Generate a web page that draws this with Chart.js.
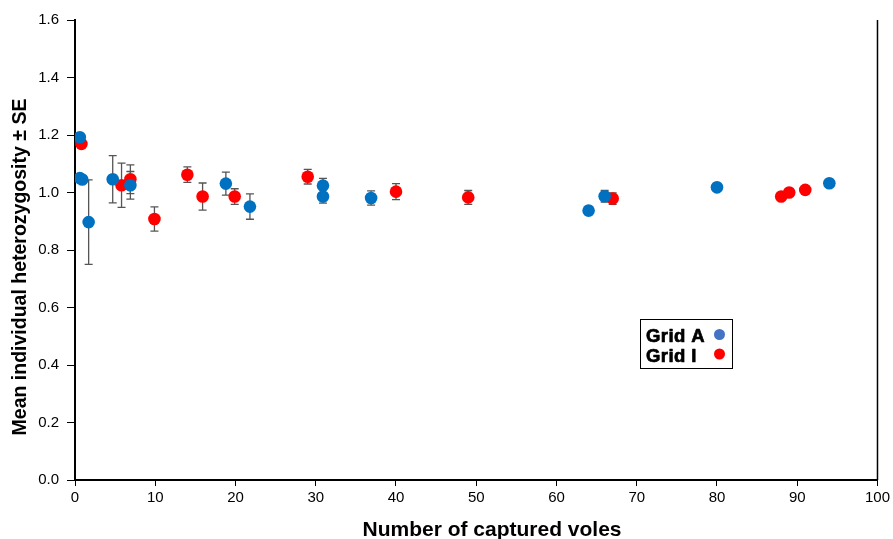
<!DOCTYPE html>
<html>
<head>
<meta charset="utf-8">
<script src="https://cdn.jsdelivr.net/npm/chart.js@4.4.0/dist/chart.umd.min.js"></script>
<style>
  html, body { margin: 0; padding: 0; background: #fff; }
  #wrap { width: 893px; height: 539px; }
</style>
</head>
<body>
<div id="wrap"><canvas id="myChart" width="893" height="539"></canvas></div>
<script>
"use strict";

// Grid A (blue)
var gridA_x  = [0.6, 0.6, 0.9, 1.7, 4.7, 6.9, 18.8, 21.8, 30.9, 30.9, 36.9, 64, 66, 80, 94];
var gridA_y  = [1.192, 1.050, 1.045, 0.897, 1.046, 1.025, 1.031, 0.951, 1.024, 0.986, 0.981, 0.937, 0.987, 1.018, 1.032];
var gridA_se = [0, 0, 0, 0.147, 0.082, 0.048, 0.040, 0.044, 0.025, 0.023, 0.025, 0.015, 0.020, 0.012, 0.012];

// Grid I (red)
var gridI_x  = [0.8, 5.8, 6.9, 9.9, 14, 15.9, 19.9, 29, 40, 49, 67, 88, 89, 91];
var gridI_y  = [1.169, 1.025, 1.046, 0.908, 1.062, 0.986, 0.986, 1.055, 1.003, 0.983, 0.979, 0.986, 1.000, 1.009];
var gridI_se = [0, 0.077, 0.050, 0.042, 0.027, 0.047, 0.027, 0.0255, 0.028, 0.024, 0.020, 0, 0, 0];

var xTicks = [0, 10, 20, 30, 40, 50, 60, 70, 80, 90, 100];
var yTicks = [0.0, 0.2, 0.4, 0.6, 0.8, 1.0, 1.2, 1.4, 1.6];

var xTitle = 'Number of captured voles';
var yTitle = 'Mean individual heterozygosity ± SE';

function toPoints(xs, ys, se) {
    return xs.map(function (x, i) { return { x: x, y: ys[i], se: se[i] }; });
}

var FONT = "'Liberation Sans', Arial, sans-serif";

// error bars drawn under the dots
var errorBars = {
    id: 'errorBars',
    beforeDatasetsDraw: function (chart) {
        var ctx = chart.ctx;
        var xs = chart.scales.x, ys = chart.scales.y;
        ctx.save();
        ctx.strokeStyle = '#555555';
        ctx.lineWidth = 1.3;
        chart.data.datasets.forEach(function (ds) {
            ds.data.forEach(function (p) {
                if (!p.se) return;
                var px = xs.getPixelForValue(p.x);
                var top = ys.getPixelForValue(p.y + p.se);
                var bot = ys.getPixelForValue(p.y - p.se);
                ctx.beginPath();
                ctx.moveTo(px, top); ctx.lineTo(px, bot);
                ctx.moveTo(px - 4, top); ctx.lineTo(px + 4, top);
                ctx.moveTo(px - 4, bot); ctx.lineTo(px + 4, bot);
                ctx.stroke();
            });
        });
        ctx.restore();
    }
};

// right frame line, axis titles, boxed legend
var frameAndLegend = {
    id: 'frameAndLegend',
    afterDraw: function (chart) {
        var ctx = chart.ctx;
        var a = chart.chartArea;
        ctx.save();
        ctx.strokeStyle = '#000';
        ctx.lineWidth = 1.5;
        ctx.beginPath();
        ctx.moveTo(a.right, a.top);
        ctx.lineTo(a.right, a.bottom);
        ctx.stroke();

        // axis titles
        ctx.fillStyle = '#000';
        ctx.textAlign = 'center';
        ctx.textBaseline = 'alphabetic';
        ctx.font = 'bold 21px ' + FONT;
        ctx.fillText(xTitle, 492, 536);
        ctx.save();
        ctx.translate(26, 267);
        ctx.rotate(-Math.PI / 2);
        ctx.font = 'bold 19.5px ' + FONT;
        ctx.fillText(yTitle, 0, 0);
        ctx.restore();

        // legend box
        var bx = 640, by = 319, bw = 92, bh = 49;
        ctx.fillStyle = '#fff';
        ctx.fillRect(bx, by, bw, bh);
        ctx.lineWidth = 1;
        ctx.strokeRect(bx + 0.5, by + 0.5, bw, bh);
        ctx.font = 'bold 18.5px ' + FONT;
        ctx.textAlign = 'left';
        ctx.textBaseline = 'alphabetic';
        if ('letterSpacing' in ctx) ctx.letterSpacing = '0.4px';
        ctx.lineWidth = 0.7;
        ctx.lineJoin = 'round';
        var items = [['Grid A', '#4472C4'], ['Grid I', '#FF0000']];
        items.forEach(function (it, i) {
            var base = by + 23 + i * 19.5;
            ctx.fillStyle = '#000';
            ctx.strokeStyle = '#000';
            ctx.fillText(it[0], bx + 6, base);
            ctx.strokeText(it[0], bx + 6, base);
            ctx.fillStyle = it[1];
            ctx.beginPath();
            ctx.arc(bx + 79.5, base - 7.5, 5.5, 0, Math.PI * 2);
            ctx.fill();
        });
        ctx.restore();
    }
};

new Chart(document.getElementById('myChart'), {
    type: 'scatter',
    data: {
        datasets: [{
            label: 'Grid A',
            data: toPoints(gridA_x, gridA_y, gridA_se),
            backgroundColor: '#0070C0',
            borderColor: '#0070C0',
            pointRadius: 6.3,
            pointBorderWidth: 0
        }, {
            label: 'Grid I',
            data: toPoints(gridI_x, gridI_y, gridI_se),
            backgroundColor: '#FF0000',
            borderColor: '#FF0000',
            pointRadius: 6.3,
            pointBorderWidth: 0
        }]
    },
    options: {
        responsive: false,
        animation: false,
        layout: { padding: { top: 20, right: 13, left: 0, bottom: 0 } },
        plugins: {
            legend: { display: false },
            tooltip: { enabled: false }
        },
        scales: {
            x: {
                type: 'linear',
                min: 0, max: 100,
                afterBuildTicks: function (s) { s.ticks = xTicks.map(function (v) { return { value: v }; }); },
                afterFit: function (s) { s.height = 59; },
                border: { display: true, color: '#000', width: 2 },
                grid: { drawOnChartArea: false, drawTicks: true, tickLength: 6, color: '#000', lineWidth: 1 },
                ticks: { color: '#000', font: { family: FONT, size: 15 }, padding: 3, maxRotation: 0 },
                title: { display: false }
            },
            y: {
                type: 'linear',
                min: 0, max: 1.6,
                afterBuildTicks: function (s) { s.ticks = yTicks.map(function (v) { return { value: v }; }); },
                afterFit: function (s) { s.width = 75; },
                border: { display: true, color: '#000', width: 2 },
                grid: { drawOnChartArea: false, drawTicks: true, tickLength: 8, color: '#000', lineWidth: 1 },
                ticks: { color: '#000', font: { family: FONT, size: 15 }, padding: 8,
                         callback: function (v) { return v.toFixed(1); } },
                title: { display: false }
            }
        }
    },
    plugins: [errorBars, frameAndLegend]
});
</script>
</body>
</html>
